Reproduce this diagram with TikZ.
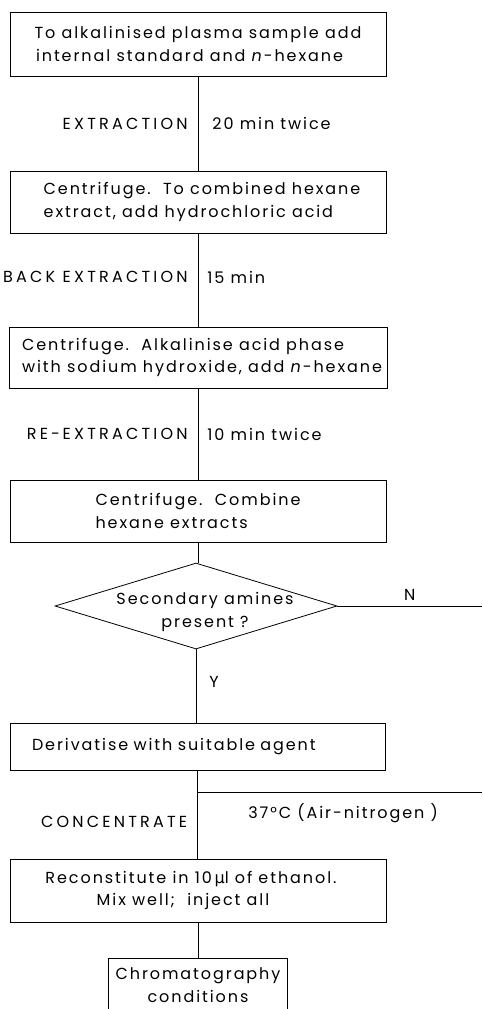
\documentclass[tikz,border=0pt]{standalone}
\usepackage{fontspec}
\setmainfont{Poppins}[LetterSpace=12]
\newfontfamily\capsfont{Poppins}[LetterSpace=20]
\newfontfamily\greekfont{DejaVu Sans}
\usetikzlibrary{shapes.geometric}
\begin{document}
\begin{tikzpicture}[x=1pt,y=-1pt,
  txt/.style={font=\fontsize{16}{22.5}\selectfont, inner sep=0pt},
  box/.style={txt, draw, line width=0.8pt, rectangle},
  conn/.style={line width=0.8pt},
  lblL/.style={txt, font=\fontsize{16}{22.5}\capsfont, anchor=east, xshift=-10pt},
  lblR/.style={txt, anchor=west, xshift=#1},
  lblR/.default=9pt
]
\clip (0,0) rectangle (482,1009);
\node[box, minimum width=376, minimum height=64, align=center] (b1) at (198,44)
  {To alkalinised plasma sample add\\internal standard and \textit{n}-hexane\hspace*{17pt}};
\node[box, minimum width=376, minimum height=62, align=left] (b2) at (198,202)
  {\hspace*{8pt}Centrifuge.\ \ To combined hexane\\\hspace*{8pt}extract, add hydrochloric acid};
\node[box, minimum width=378, minimum height=61, align=left] (b3) at (198,357.5)
  {\hspace*{8pt}Centrifuge.\ \ Alkalinise acid phase\\\hspace*{8pt}with sodium hydroxide, add \textit{n}-hexane};
\node[box, minimum width=376, minimum height=62, align=left] (b4) at (198,511)
  {Centrifuge.\ \ Combine\\hexane extracts};
\node[draw, line width=0.8pt, diamond, aspect=3.27, inner sep=0pt, minimum width=282, minimum height=86] (dia) at (196,606) {};
\node[txt, align=center] (diat) at (205,612) {Secondary amines\\present ?};
\node[box, minimum width=375, minimum height=47, text width=331, inner xsep=22pt, align=left] (b5) at (197.5,746.5)
  {Derivatise with suitable agent};
\node[box, minimum width=376, minimum height=63, align=center] (b6) at (198,890.5)
  {Reconstitute in 10\,{\greekfont μ}l of ethanol.\hspace*{14pt}\\Mix well;\ \ inject all\hspace*{30pt}};
\node[box, minimum width=179, minimum height=54, align=center] (b7) at (198,985)
  {Chromatography\\conditions};
\coordinate (nEnd) at (482,606);
\coordinate (jn) at (198,792);
\coordinate (jEnd) at (482,792);

\draw[conn] (b1) -- node[lblL]{EXTRACTION} node[lblR=14pt]{20 min twice} (b2);
\draw[conn] (b2) -- node[lblL, yshift=3pt]{BACK EXTRACTION} node[lblR, yshift=3pt]{15 min} (b3);
\draw[conn] (b3) -- node[lblL]{RE-\,EXTRACTION} node[lblR]{10 min twice} (b4);
\draw[conn] (b4.south) -- (b4.south |- dia.north);
\draw[conn] (dia.east) -- node[txt, above, inner sep=5pt]{N} (nEnd);
\draw[conn] (dia.south) -- node[lblR=13pt, yshift=4pt]{Y} (dia.south |- b5.north);
\draw[conn] (b5.south) -- node[lblL, yshift=-7pt]{CONCENTRATE} (b5.south |- b6.north);
\draw[conn] (jn) -- node[txt, pos=0, anchor=west, xshift=50pt, yshift=-21pt]{37°C (Air-nitrogen )} (jEnd);
\draw[conn] (b6) -- (b7);
\end{tikzpicture}
\end{document}
